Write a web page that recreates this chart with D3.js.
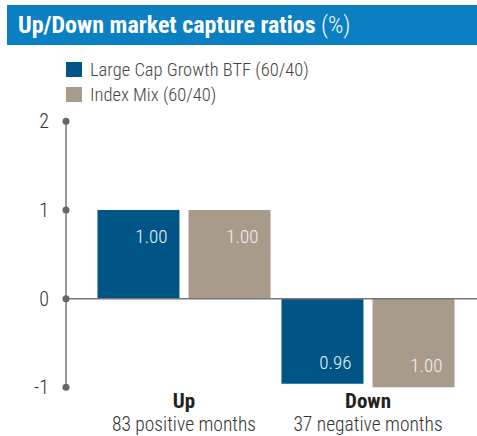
<!DOCTYPE html>
<html>
<head>
<meta charset="utf-8">
<script src="https://cdn.jsdelivr.net/npm/d3@7"></script>
<style>
  body { margin: 0; background: #fff; }
  svg text { font-family: "Roboto Condensed", "Liberation Sans Narrow", "DejaVu Sans Condensed", sans-serif; }
</style>
</head>
<body>
<svg id="chart" width="477" height="436"></svg>
<script>
// Data
const categories = ["Up", "Down"];
const subLabels = ["83 positive months", "37 negative months"];
const seriesNames = ["Large Cap Growth BTF (60/40)", "Index Mix (60/40)"];
const btfValues = [1.00, -0.96];
const indexValues = [1.00, -1.00];
const valueLabels = [["1.00", "0.96"], ["1.00", "1.00"]];
const yTicks = [-1, 0, 1, 2];

const COLORS = ["#005587", "#a99b8c"];
const AXIS = "#777";

const svg = d3.select("#chart"),
    width = +svg.attr("width"),
    height = +svg.attr("height");

// Title bar
svg.append("rect")
    .attr("x", 7).attr("y", 5)
    .attr("width", width - 7).attr("height", 40)
    .attr("fill", "#0a7fc2");

let title = svg.append("text")
    .attr("x", 18).attr("y", 33)
    .attr("fill", "#fff")
    .attr("font-size", 24);
title.append("tspan").attr("font-weight", "bold").text("Up/Down market capture ratios");
title.append("tspan").attr("font-weight", 300).text(" (%)");

// Legend
let legend = svg.append("g")
    .selectAll("g")
    .data(seriesNames)
    .enter().append("g")
    .attr("transform", (d, i) => `translate(66,${62 + i * 25})`);

legend.append("rect")
    .attr("width", 16).attr("height", 15)
    .attr("fill", (d, i) => COLORS[i]);

legend.append("text")
    .attr("x", 24).attr("y", 14)
    .attr("fill", "#444")
    .attr("font-size", 18.5)
    .attr("font-weight", 300)
    .text(d => d);

// Scales
const y = d3.scaleLinear().domain([-1, 2]).range([387.3, 121.3]);
const x0 = d3.scaleBand().domain(categories).range([92, 460]).padding(0);
const x1 = d3.scaleBand().domain(seriesNames).range([0, x0.bandwidth()])
    .paddingInner(0.1).paddingOuter(0.06);

const rows = categories.map((c, i) => ({
    cat: c,
    vals: [
        {name: seriesNames[0], v: btfValues[i], label: valueLabels[0][i], k: 0},
        {name: seriesNames[1], v: indexValues[i], label: valueLabels[1][i], k: 1}
    ]
}));

// Bars
let groups = svg.append("g")
    .selectAll("g")
    .data(rows)
    .enter().append("g")
    .attr("transform", d => `translate(${x0(d.cat)},0)`);

groups.selectAll("rect")
    .data(d => d.vals)
    .enter().append("rect")
    .attr("x", d => x1(d.name))
    .attr("y", d => y(Math.max(0, d.v)))
    .attr("width", x1.bandwidth())
    .attr("height", d => Math.abs(y(d.v) - y(0)))
    .attr("fill", d => COLORS[d.k]);

groups.selectAll("text.val")
    .data(d => d.vals)
    .enter().append("text")
    .attr("class", "val")
    .attr("x", d => x1(d.name) + x1.bandwidth() - 12)
    .attr("y", d => d.v >= 0 ? y(d.v) + 33 : y(d.v) - 15)
    .attr("text-anchor", "end")
    .attr("fill", "#f2f2f2")
    .attr("font-size", 19)
    .attr("font-weight", 300)
    .text(d => d.label);

// Zero line
svg.append("line")
    .attr("x1", 66).attr("x2", width)
    .attr("y1", y(0)).attr("y2", y(0))
    .attr("stroke", AXIS).attr("stroke-width", 1.5);

// Y axis with dot ticks
svg.append("line")
    .attr("x1", 66).attr("x2", 66)
    .attr("y1", y(2)).attr("y2", y(-1))
    .attr("stroke", AXIS).attr("stroke-width", 1.5);

svg.append("g")
    .selectAll("circle")
    .data(yTicks)
    .enter().append("circle")
    .attr("cx", 66).attr("cy", d => y(d))
    .attr("r", 3.5)
    .attr("fill", "#666");

svg.append("g")
    .selectAll("text")
    .data(yTicks)
    .enter().append("text")
    .attr("x", 49).attr("y", d => y(d) + 7)
    .attr("text-anchor", "end")
    .attr("fill", "#333")
    .attr("font-size", 20)
    .attr("font-weight", 300)
    .text(d => d);

// Category labels
let cats = svg.append("g")
    .selectAll("g")
    .data(categories)
    .enter().append("g")
    .attr("transform", d => `translate(${x0(d) + x0.bandwidth() / 2},0)`);

cats.append("text")
    .attr("y", 408)
    .attr("text-anchor", "middle")
    .attr("font-weight", "bold")
    .attr("fill", "#222")
    .attr("font-size", 21)
    .text(d => d);

cats.append("text")
    .attr("y", 431)
    .attr("text-anchor", "middle")
    .attr("fill", "#333")
    .attr("font-size", 19.5)
    .attr("font-weight", 300)
    .text((d, i) => subLabels[i]);
</script>
</body>
</html>
